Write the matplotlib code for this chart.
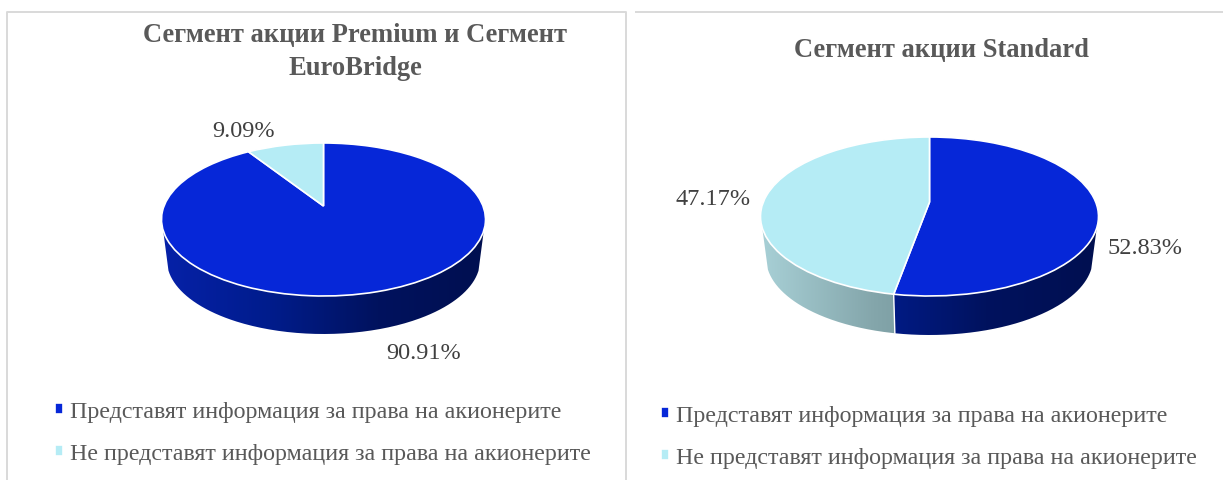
import numpy as np
import matplotlib
matplotlib.use("Agg")
import matplotlib.pyplot as plt
from matplotlib.transforms import Transform
from matplotlib.path import Path
from matplotlib.patches import PathPatch
from matplotlib.colors import LinearSegmentedColormap

plt.rcParams['font.family'] = ['Liberation Serif', 'DejaVu Serif']

left_title = "Сегмент акции Premium и Сегмент\nEuroBridge"
right_title = "Сегмент акции Standard"
categories = ["Представят информация за права на акионерите",
              "Не представят информация за права на акионерите"]
left_values = [90.91, 9.09]
right_values = [52.83, 47.17]

W, H = 1223, 481
BLUE = "#0627D8"
LIGHT = "#B5ECF5"
GREY = "#595959"
TEXT = "#404040"
WALLS = [["#0621A8", "#001C8C", "#00125E", "#000F50"],
         ["#A8D0D6", "#84A6AB", "#6A8A8F", "#5F7D82"]]


class Perspective(Transform):
    """Tilted-disc projection: unit circle to screen pixels."""
    input_dims = output_dims = 2
    is_affine = False
    has_inverse = False

    def __init__(self, cx, apex_y, up, down, half_w, scale=1.0, shift=0.0):
        super().__init__()
        k = (down - up) / (down + up)
        self.k, self.A = k, up * (1 + k)
        self.B = half_w * np.sqrt(1 - k * k)
        self.cx, self.apex_y, self.scale, self.shift = cx, apex_y, scale, shift

    def transform_non_affine(self, values):
        values = np.asarray(values, float)
        u, v = values[:, 0], values[:, 1]
        w = 1 + self.k * v
        x = self.cx + self.scale * self.B * u / w
        y = self.apex_y + self.shift - self.scale * self.A * v / w
        return np.column_stack([x, y])


def draw_panel(values, title, title_xy, cx, apex_y, up, down, half_w, depth,
               label_xy, legend_anchor):
    ax = fig.add_axes([0, 0, 1, 1], facecolor="none")
    wedges, _ = ax.pie(values, colors=[BLUE, LIGHT], startangle=90,
                       counterclock=False, radius=1,
                       wedgeprops=dict(edgecolor="white", linewidth=1.2, zorder=5))
    top = Perspective(cx, apex_y, up, down, half_w)
    scale = 0.967
    shift = depth + down - scale * down
    low = Perspective(cx, apex_y, up, down, half_w, scale, shift)
    for w in wedges:
        w.set_transform(top + ax.transData)

    # side walls: from each slice's clockwise angular range, front part only
    edges = np.concatenate([[0], np.cumsum(values)]) / np.sum(values) * 2 * np.pi
    margin = 0.14
    vis0 = np.pi / 2 + np.arcsin(top.k) + margin
    vis1 = 3 * np.pi / 2 - np.arcsin(top.k) - margin
    for i in range(len(values)):
        a0, a1 = max(edges[i], vis0), min(edges[i + 1], vis1)
        if a1 <= a0:
            continue
        t = np.linspace(a0, a1, 200)
        rim = np.column_stack([np.sin(t), np.cos(t)])
        pts = np.vstack([top.transform(rim), low.transform(rim)[::-1]])
        clip = PathPatch(Path(np.vstack([pts, pts[:1]])), transform=ax.transData,
                         facecolor="none", edgecolor="none")
        ax.add_patch(clip)
        cmap = LinearSegmentedColormap.from_list("wall", WALLS[i])
        im = ax.imshow(np.linspace(0, 1, 256)[None, :], cmap=cmap, aspect="auto",
                       extent=(cx - half_w, cx + half_w, H, 0), zorder=2)
        im.set_clip_path(clip)
    for a in edges[1:-1]:
        if vis0 < a < vis1:
            p = np.array([[np.sin(a), np.cos(a)]])
            q = np.vstack([top.transform(p), low.transform(p)])
            ax.plot(q[:, 0], q[:, 1], color="white", lw=1.0, zorder=3)

    ax.set_aspect("auto")
    ax.set_xlim(0, W)
    ax.set_ylim(H, 0)
    ax.set_position([0, 0, 1, 1])
    ax.axis("off")

    ax.text(title_xy[0], title_xy[1], title, ha="center", va="center", fontsize=19.1,
            fontweight="bold", color=GREY, linespacing=1.38)
    for v, (lx, ly) in zip(values, label_xy):
        ax.text(lx, ly, f"{v:.2f}%", ha="center", va="center", fontsize=17.5, color=TEXT)

    ax.legend(wedges, categories, loc="upper left", bbox_to_anchor=legend_anchor,
              bbox_transform=fig.transFigure, frameon=False, fontsize=17.3,
              labelcolor=GREY, handlelength=0.34, handleheight=0.34, handletextpad=0.3,
              labelspacing=0.89, borderpad=0, borderaxespad=0)
    return ax


fig = plt.figure(figsize=(W / 100, H / 100), dpi=100, facecolor="white")

draw_panel(left_values, left_title, (355, 52), 323.5, 207, 63, 90, 162, 38,
           [(424, 354), (244, 132)], (55 / W, 1 - 402 / H))
draw_panel(right_values, right_title, (941, 50), 929.5, 203, 65, 94, 169, 39,
           [(1145, 249), (713, 200)], (661 / W, 1 - 406 / H))

frame = fig.add_axes([0, 0, 1, 1], facecolor="none", zorder=-1)
frame.set_xlim(0, W)
frame.set_ylim(H, 0)
frame.axis("off")
frame.plot([7, 7, 626, 626], [H, 13, 13, H], color="#D9D9D9", lw=1.4)
frame.plot([636, W], [13, 13], color="#D9D9D9", lw=1.4)

fig.savefig("out.png", dpi=100)
